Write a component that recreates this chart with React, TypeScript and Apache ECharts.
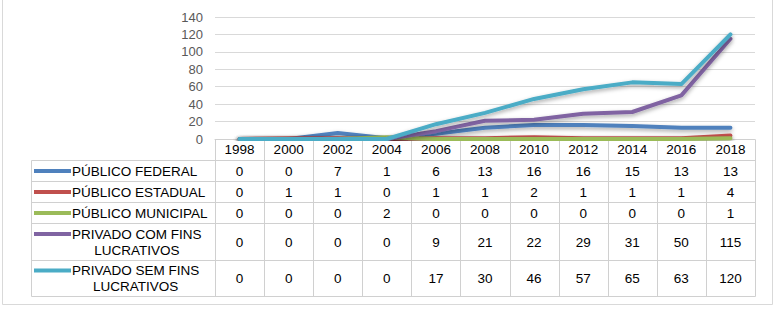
import React, { useEffect, useRef } from "react";
import * as echarts from "echarts";

const years = ["1998", "2000", "2002", "2004", "2006", "2008", "2010", "2012", "2014", "2016", "2018"];
const seriesNames = [
  "PÚBLICO FEDERAL",
  "PÚBLICO ESTADUAL",
  "PÚBLICO MUNICIPAL",
  "PRIVADO COM FINS LUCRATIVOS",
  "PRIVADO SEM FINS LUCRATIVOS",
];
const labelLines = [
  ["PÚBLICO FEDERAL"],
  ["PÚBLICO ESTADUAL"],
  ["PÚBLICO MUNICIPAL"],
  ["PRIVADO COM FINS", "LUCRATIVOS"],
  ["PRIVADO SEM FINS", "LUCRATIVOS"],
];
const publicoFederal = [0, 0, 7, 1, 6, 13, 16, 16, 15, 13, 13];
const publicoEstadual = [0, 1, 1, 0, 1, 1, 2, 1, 1, 1, 4];
const publicoMunicipal = [0, 0, 0, 2, 0, 0, 0, 0, 0, 0, 1];
const privadoComFins = [0, 0, 0, 0, 9, 21, 22, 29, 31, 50, 115];
const privadoSemFins = [0, 0, 0, 0, 17, 30, 46, 57, 65, 63, 120];
const seriesData = [publicoFederal, publicoEstadual, publicoMunicipal, privadoComFins, privadoSemFins];
const yMin = 0;
const yMax = 140;
const yInterval = 20;

const colors = ["#4F81BD", "#C0504D", "#9BBB59", "#8064A2", "#4BACC6"];
const FONT = "'Liberation Sans', Arial, sans-serif";
const FS = 13.5;
const FS_Y = 13;
const GRID_COLOR = "#d9d9d9";
const TABLE_COLOR = "#d0d0d0";

// layout
const W = 779;
const H = 313;
const GRID_LEFT = 215;
const GRID_RIGHT = 755;
const GRID_TOP = 17;
const GRID_BOTTOM_Y = 139;
const HEADER_H = 21;
const ROW_HEIGHTS = [21, 21, 21, 37, 36];
const TABLE_LEFT = 31;
const KEY_X1 = 34;
const KEY_X2 = 71;
const LABEL_X = 72;

function measure(text: string): number {
  const c = document.createElement("canvas");
  const ctx = c.getContext("2d");
  if (!ctx) return text.length * 7;
  ctx.font = `${FS}px ${FONT}`;
  return ctx.measureText(text).width;
}

export default function App() {
  const ref = useRef<HTMLDivElement>(null);
  useEffect(() => {
    if (!ref.current) return;
    const chart = echarts.init(ref.current, undefined, { renderer: "svg" });
    chart.setOption({
      animation: false,
      backgroundColor: "#ffffff",
      grid: {
        left: GRID_LEFT,
        right: W - GRID_RIGHT,
        top: GRID_TOP,
        bottom: H - GRID_BOTTOM_Y,
        containLabel: false,
      },
      xAxis: {
        type: "category",
        data: years,
        boundaryGap: true,
        axisTick: { show: false },
        axisLine: { show: true, lineStyle: { color: TABLE_COLOR, width: 1 } },
        axisLabel: {
          color: "#000000",
          fontFamily: FONT,
          fontSize: FS,
          margin: 10.5,
          verticalAlign: "middle",
          interval: 0,
        },
        splitLine: { show: false },
      },
      yAxis: {
        type: "value",
        min: yMin,
        max: yMax,
        interval: yInterval,
        axisLine: { show: false },
        axisTick: { show: false },
        axisLabel: { color: "#595959", fontFamily: FONT, fontSize: FS_Y, margin: 12 },
        splitLine: { lineStyle: { color: GRID_COLOR, width: 1 } },
      },
      series: seriesData.map((d, i) => ({
        name: seriesNames[i],
        type: "line",
        data: d,
        symbol: "none",
        z: 2 + i,
        lineStyle: {
          color: colors[i],
          width: 4,
          cap: "round",
          join: "round",
          shadowColor: "rgba(0,0,0,0.35)",
          shadowBlur: 4,
          shadowOffsetY: 2,
        },
        itemStyle: { color: colors[i] },
      })),
    });

    // build data table from axis layout
    const centers = years.map((_, i) => chart.convertToPixel({ xAxisIndex: 0 }, i) as number);
    const colW = (GRID_RIGHT - GRID_LEFT) / years.length;
    const y0 = Math.round(chart.convertToPixel({ yAxisIndex: 0 }, 0) as number);
    const headerBottom = y0 + HEADER_H;
    const rowTops: number[] = [headerBottom];
    ROW_HEIGHTS.forEach((h) => rowTops.push(rowTops[rowTops.length - 1] + h));
    const tableBottom = rowTops[rowTops.length - 1];

    const els: any[] = [];
    const line = (x1: number, y1: number, x2: number, y2: number) =>
      els.push({
        type: "line",
        silent: true,
        shape: { x1, y1, x2, y2 },
        style: { stroke: TABLE_COLOR, lineWidth: 1 },
      });

    // outer frame
    els.push({
      type: "rect",
      silent: true,
      shape: { x: 2.5, y: -2, width: 770, height: 306.5 },
      style: { fill: "none", stroke: GRID_COLOR, lineWidth: 1 },
    });

    rowTops.forEach((y) => line(TABLE_LEFT + 0.5, y + 0.5, GRID_RIGHT + 0.5, y + 0.5));
    line(TABLE_LEFT + 0.5, headerBottom + 0.5, TABLE_LEFT + 0.5, tableBottom + 0.5);
    for (let i = 0; i <= years.length; i++) {
      const x = Math.round(GRID_LEFT + i * colW) + 0.5;
      line(x, y0 + 0.5, x, tableBottom + 0.5);
    }

    seriesData.forEach((d, r) => {
      const top = rowTops[r];
      const h = ROW_HEIGHTS[r];
      const cy = top + h / 2 + 0.5;
      const lines = labelLines[r];
      const lh = 16;
      const firstY = cy - ((lines.length - 1) * lh) / 2;
      els.push({
        type: "line",
        silent: true,
        shape: { x1: KEY_X1, y1: firstY, x2: KEY_X2, y2: firstY },
        style: { stroke: colors[r], lineWidth: 4 },
      });
      const w0 = measure(lines[0]);
      lines.forEach((t, k) => {
        if (k === 0) {
          els.push({
            type: "text",
            silent: true,
            x: LABEL_X,
            y: firstY,
            style: { text: t, fill: "#000000", font: `${FS}px ${FONT}`, align: "left", verticalAlign: "middle" },
          });
        } else {
          els.push({
            type: "text",
            silent: true,
            x: LABEL_X + w0 / 2,
            y: firstY + k * lh,
            style: { text: t, fill: "#000000", font: `${FS}px ${FONT}`, align: "center", verticalAlign: "middle" },
          });
        }
      });
      d.forEach((v, i) => {
        els.push({
          type: "text",
          silent: true,
          x: centers[i],
          y: cy,
          style: { text: String(v), fill: "#000000", font: `${FS}px ${FONT}`, align: "center", verticalAlign: "middle" },
        });
      });
    });

    chart.setOption({ graphic: { elements: els } });
    return () => chart.dispose();
  }, []);

  return (
    <div
      ref={ref}
      style={{ position: "fixed", left: 0, top: 0, width: W, height: H, background: "#ffffff" }}
    />
  );
}
